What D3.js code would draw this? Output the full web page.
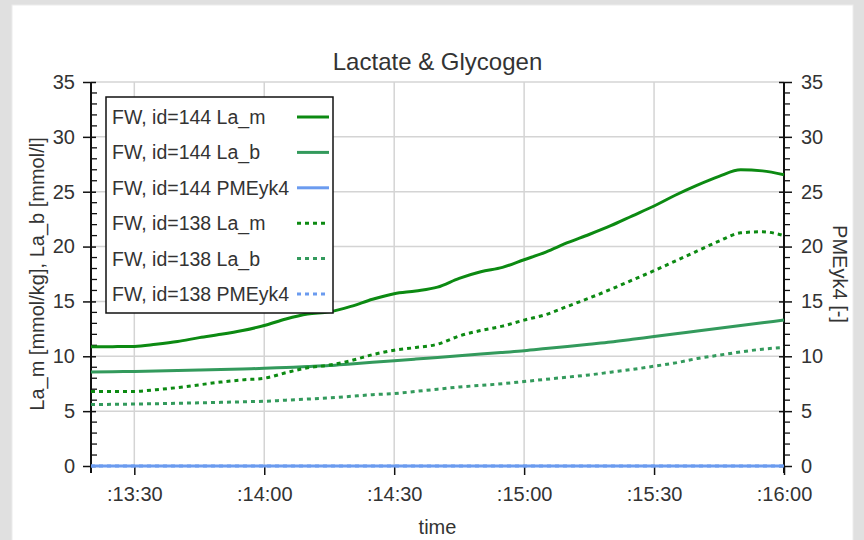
<!DOCTYPE html>
<html>
<head>
<meta charset="utf-8">
<script src="https://cdn.jsdelivr.net/npm/d3@7"></script>
<style>
  html, body { margin: 0; padding: 0; background: #e0e0e0; }
  svg { display: block; font-family: "Liberation Sans", Arial, Helvetica, sans-serif; }
</style>
</head>
<body>
<svg id="chart" width="864" height="540"></svg>
<script>
// Sample times (mm:ss), every 5 s
const times = ["13:20","13:25","13:30","13:35","13:40","13:45","13:50","13:55",
  "14:00","14:05","14:10","14:15","14:20","14:25","14:30","14:35","14:40","14:45",
  "14:50","14:55","15:00","15:05","15:10","15:15","15:20","15:25","15:30","15:35",
  "15:40","15:45","15:50","15:55","16:00"];

// id=144
const laM144 = [10.87,10.88,10.9,11.1,11.35,11.7,12.0,12.35,12.8,13.4,13.85,14.05,14.55,
  15.2,15.7,15.95,16.3,17.1,17.7,18.1,18.8,19.5,20.35,21.1,21.9,22.8,23.7,24.7,25.6,26.4,
  27.0,26.9,26.55];
const laB144 = [8.57,8.6,8.62,8.65,8.7,8.75,8.8,8.85,8.9,8.98,9.06,9.15,9.3,9.45,9.6,9.75,
  9.9,10.05,10.2,10.35,10.5,10.7,10.9,11.1,11.3,11.55,11.8,12.05,12.3,12.55,12.8,13.05,13.3];
const pme144 = new Array(33).fill(0);

// id=138
const laM138 = [6.8,6.78,6.8,6.95,7.15,7.4,7.65,7.85,8.0,8.5,8.95,9.2,9.6,10.15,10.55,10.8,
  11.1,11.85,12.35,12.75,13.3,13.8,14.55,15.3,16.1,16.95,17.8,18.7,19.6,20.5,21.25,21.35,21.0];
const laB138 = [5.6,5.62,5.65,5.68,5.72,5.76,5.8,5.85,5.9,6.0,6.1,6.2,6.35,6.5,6.6,6.8,7.0,
  7.2,7.35,7.5,7.7,7.9,8.1,8.3,8.55,8.8,9.1,9.4,9.8,10.1,10.4,10.65,10.8];
const pme138 = new Array(33).fill(0);

const xTickLabels = [":13:30", ":14:00", ":14:30", ":15:00", ":15:30", ":16:00"];
const yTicks = [0, 5, 10, 15, 20, 25, 30, 35];

const seriesNames = ["FW, id=144 La_m", "FW, id=144 La_b", "FW, id=144 PMEyk4",
  "FW, id=138 La_m", "FW, id=138 La_b", "FW, id=138 PMEyk4"];
const seriesValues = [laM144, laB144, pme144, laM138, laB138, pme138];
const seriesAxis = ["left", "left", "right", "left", "left", "right"];
const seriesColor = ["#0c8a12", "#339a5c", "#6b9bef", "#0c8a12", "#339a5c", "#6b9bef"];
const seriesDash = [null, null, null, "4,4", "4,4", "4,4"];

const toSec = s => { const [mm, ss] = s.split(":").map(Number); return mm * 60 + ss; };

const svg = d3.select("#chart");
const m = { left: 91, right: 784, top: 82, bottom: 466 };
const textColor = "#333";

// white panel
svg.append("rect").attr("x", 12).attr("y", 5).attr("width", 841).attr("height", 540)
  .attr("fill", "#fff").attr("stroke", "#ececec").attr("stroke-width", 1);

const x = d3.scaleLinear().domain([toSec("13:20"), toSec("16:00")]).range([m.left, m.right]);
const yL = d3.scaleLinear().domain([0, 35]).range([m.bottom, m.top]);
const yR = d3.scaleLinear().domain([0, 35]).range([m.bottom, m.top]);

const xTicks = xTickLabels.map(s => toSec(s.slice(1)));

// grid
const grid = svg.append("g").attr("stroke", "#d4d4d4").attr("stroke-width", 1.5);
grid.selectAll("line.h").data(yTicks).join("line").attr("class", "h")
  .attr("x1", m.left).attr("x2", m.right)
  .attr("y1", d => yL(d)).attr("y2", d => yL(d));
grid.selectAll("line.v").data(xTicks).join("line").attr("class", "v")
  .attr("x1", d => x(d)).attr("x2", d => x(d))
  .attr("y1", m.top).attr("y2", m.bottom);

// axes
const gL = svg.append("g").attr("transform", `translate(${m.left},0)`)
  .call(d3.axisLeft(yL).tickValues(yTicks).tickSize(8).tickPadding(8));
const gR = svg.append("g").attr("transform", `translate(${m.right},0)`)
  .call(d3.axisRight(yR).tickValues(yTicks).tickSize(8).tickPadding(9));
const gB = svg.append("g").attr("transform", `translate(0,${m.bottom})`)
  .call(d3.axisBottom(x).tickValues(xTicks).tickSize(9).tickPadding(12)
    .tickFormat((d, i) => xTickLabels[i]));

[gL, gR, gB].forEach(g => {
  g.select(".domain").attr("stroke", "#111").attr("stroke-width", 2);
  g.selectAll(".tick line").attr("stroke", "#111").attr("stroke-width", 1.5);
  g.selectAll(".tick text").attr("fill", textColor).attr("font-size", 20)
    .attr("font-family", "Liberation Sans, Arial, sans-serif");
});
gL.select(".domain").attr("d", `M0,${m.top}V${m.bottom + 7}`);
gR.select(".domain").attr("d", `M0,${m.top}V${m.bottom + 7}`);
gB.select(".domain").attr("d", `M${m.left},0H${m.right}`);
// major ticks cross the vertical axes
gL.selectAll(".tick line").attr("x1", 5);
gR.selectAll(".tick line").attr("x1", -5);

// minor ticks (every unit) to the right of each vertical axis
const minor = d3.range(0, 36).filter(v => v % 5 !== 0);
[m.left, m.right].forEach(ax => {
  svg.append("g").selectAll("line").data(minor).join("line")
    .attr("x1", ax).attr("x2", ax + 6)
    .attr("y1", d => yL(d)).attr("y2", d => yL(d))
    .attr("stroke", "#111").attr("stroke-width", 1.3);
});

// series lines; PMEyk4 lines are drawn last so they sit on top of the baseline
const plot = svg.append("g");
const order = [0, 1, 3, 4, 2, 5];
order.forEach(i => {
  const ys = seriesAxis[i] === "left" ? yL : yR;
  const line = d3.line().x((d, j) => x(toSec(times[j]))).y(d => ys(d)).curve(d3.curveMonotoneX);
  plot.append("path").datum(seriesValues[i])
    .attr("d", line)
    .attr("fill", "none")
    .attr("stroke", seriesColor[i])
    .attr("stroke-width", 3)
    .attr("stroke-dasharray", seriesDash[i]);
});

// title and axis titles
svg.append("text").attr("x", (m.left + m.right) / 2).attr("y", 70)
  .attr("text-anchor", "middle").attr("font-size", 24).attr("fill", textColor)
  .text("Lactate & Glycogen");
svg.append("text").attr("x", (m.left + m.right) / 2).attr("y", 534)
  .attr("text-anchor", "middle").attr("font-size", 20).attr("fill", textColor)
  .text("time");
svg.append("text")
  .attr("transform", `translate(44,${(m.top + m.bottom) / 2}) rotate(-90)`)
  .attr("text-anchor", "middle").attr("font-size", 20).attr("fill", textColor)
  .text("La_m [mmol/kg], La_b [mmol/l]");
svg.append("text")
  .attr("transform", `translate(833,${(m.top + m.bottom) / 2}) rotate(90)`)
  .attr("text-anchor", "middle").attr("font-size", 20).attr("fill", textColor)
  .text("PMEyk4 [-]");

// legend
const lg = svg.append("g");
lg.append("rect").attr("x", 106).attr("y", 97).attr("width", 227).attr("height", 216)
  .attr("fill", "#fff").attr("stroke", "#111").attr("stroke-width", 1.5);
const rowY = d3.scaleLinear().domain([0, 5]).range([117, 294]);
seriesNames.forEach((name, i) => {
  const cy = rowY(i);
  lg.append("text").attr("x", 112).attr("y", cy + 7).attr("font-size", 19.5)
    .attr("fill", textColor).text(name);
  lg.append("line").attr("x1", 297).attr("x2", 329).attr("y1", cy).attr("y2", cy)
    .attr("stroke", seriesColor[i]).attr("stroke-width", 3)
    .attr("stroke-dasharray", seriesDash[i]);
});
</script>
</body>
</html>
